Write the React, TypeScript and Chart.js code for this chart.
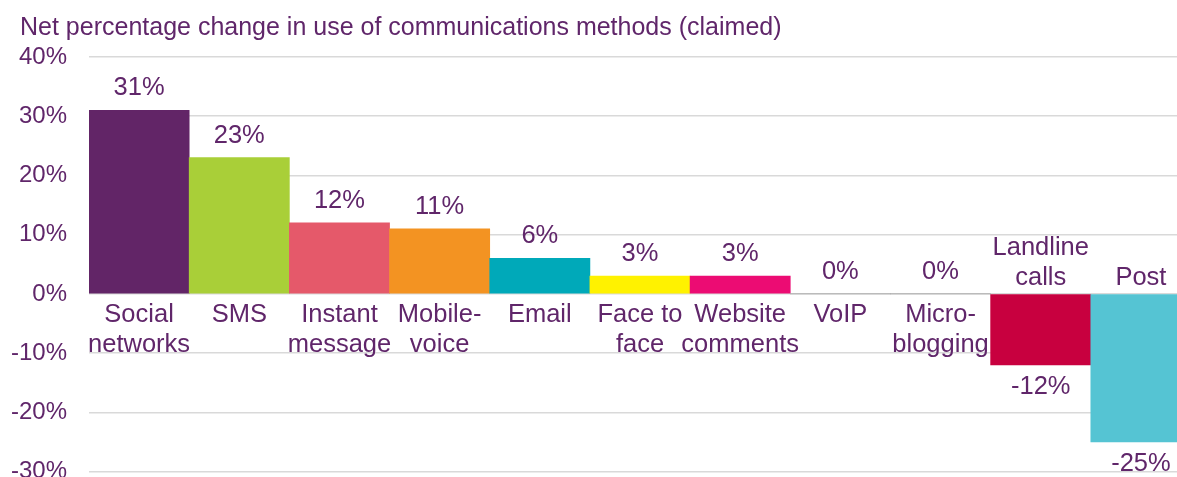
import React, { useEffect, useRef } from "react";
import { Chart, registerables } from "chart.js";

Chart.register(...registerables);

const titleText = "Net percentage change in use of communications methods (claimed)";
const categories: string[][] = [
  ["Social", "networks"],
  ["SMS"],
  ["Instant", "message"],
  ["Mobile-", "voice"],
  ["Email"],
  ["Face to", "face"],
  ["Website", "comments"],
  ["VoIP"],
  ["Micro-", "blogging"],
  ["Landline", "calls"],
  ["Post"],
];
const values: number[] = [31, 23, 12, 11, 6, 3, 3, 0, 0, -12, -25];
const barColors: string[] = [
  "#622567",
  "#A9CF38",
  "#E5596A",
  "#F39322",
  "#00A9B9",
  "#FFF200",
  "#EC0C73",
  "#9E9E9E",
  "#9E9E9E",
  "#C8003F",
  "#55C4D3",
];
const yMin = -30;
const yMax = 40;
const yStep = 10;

const TEXT = "#60266A";
const FONT_FAMILY = "'Liberation Sans', Arial, sans-serif";
const LABEL_SIZE = 25.5;
const TICK_SIZE = 24;
const TITLE_SIZE = 25;

const labelPlugin = {
  id: "customLabels",
  afterDatasetsDraw(chart: any) {
    const ctx = chart.ctx;
    const meta = chart.getDatasetMeta(0);
    const yScale = chart.scales.y;
    const zero = yScale.getPixelForValue(0);
    ctx.save();
    ctx.fillStyle = TEXT;
    ctx.font = `${LABEL_SIZE}px ${FONT_FAMILY}`;
    ctx.textAlign = "center";
    ctx.textBaseline = "middle";
    meta.data.forEach((bar: any, i: number) => {
      const v = values[i];
      const x = bar.x;
      const lines = categories[i];
      const lh = 30;
      if (v >= 0) {
        lines.forEach((ln, k) => ctx.fillText(ln, x, zero + 21 + k * lh));
        ctx.fillText(`${v}%`, x, yScale.getPixelForValue(v) - 22);
      } else {
        const n = lines.length;
        lines.forEach((ln, k) => ctx.fillText(ln, x, zero - 16 - (n - 1 - k) * lh));
        ctx.fillText(`${v}%`, x, yScale.getPixelForValue(v) + 22);
      }
    });
    ctx.font = `${TITLE_SIZE}px ${FONT_FAMILY}`;
    ctx.textAlign = "left";
    ctx.fillText(titleText, 20, 28);
    ctx.restore();
  },
};

export default function App() {
  const ref = useRef<HTMLCanvasElement | null>(null);
  useEffect(() => {
    if (!ref.current) return;
    const chart = new Chart(ref.current, {
      type: "bar",
      data: {
        labels: categories.map((c) => c.join(" ")),
        datasets: [
          {
            data: values,
            backgroundColor: barColors,
            borderWidth: 0,
            categoryPercentage: 1,
            barPercentage: 1,
          },
        ],
      },
      options: {
        animation: false,
        responsive: false,
        maintainAspectRatio: false,
        layout: { padding: { top: 57, left: 12, right: 9, bottom: 6 } },
        plugins: {
          legend: { display: false },
          title: { display: false },
          tooltip: { enabled: false },
        },
        scales: {
          x: { display: false },
          y: {
            min: yMin,
            max: yMax,
            afterFit: (scale: any) => {
              scale.width = 77;
            },
            ticks: {
              stepSize: yStep,
              color: TEXT,
              font: { family: FONT_FAMILY, size: TICK_SIZE },
              padding: 22,
              callback: (v: any) => `${v}%`,
            },
            grid: { color: "#D9D9D9", lineWidth: 1.5, drawTicks: false },
            border: { display: false },
          },
        },
      },
      plugins: [labelPlugin],
    });
    return () => chart.destroy();
  }, []);
  return (
    <div
      style={{
        position: "fixed",
        left: 0,
        top: 0,
        width: 1177,
        height: 477,
        overflow: "hidden",
        background: "#fff",
      }}
    >
      <canvas ref={ref} width={1200} height={508} style={{ display: "block" }} />
    </div>
  );
}
